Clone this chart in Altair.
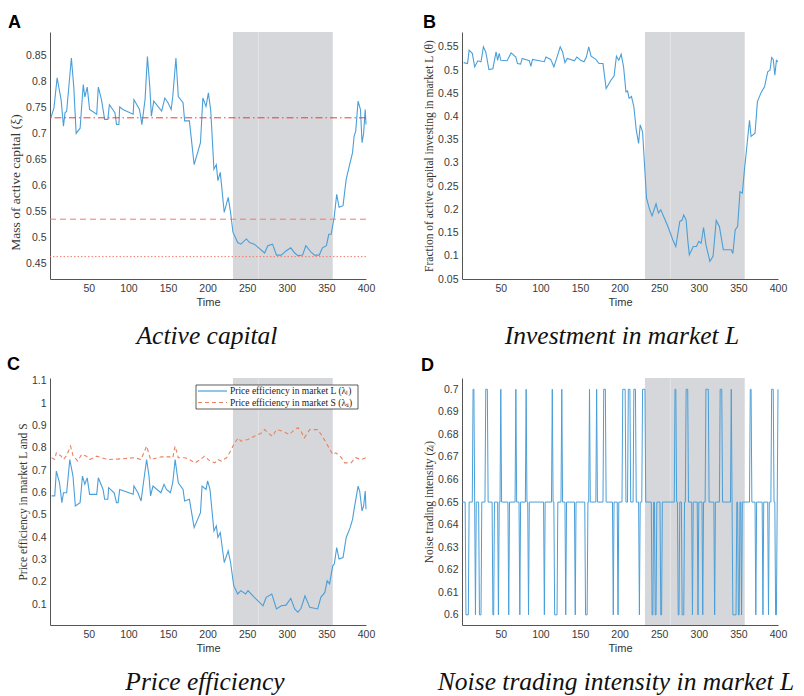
import altair as alt
import pandas as pd

# ---------------- data ----------------
TIME_DOMAIN = [1, 400]
TIME_TICKS = [50, 100, 150, 200, 250, 300, 350, 400]
SHADE_START, SHADE_END = 232, 358
SHADE_SEAM = 264

# Panel A: mass of active capital
A_t = [2, 6, 10, 12, 15, 18, 20, 22, 28, 31,
       34, 39, 43, 45, 48, 51, 60, 62, 66, 70,
       74, 76, 83, 85, 88, 89, 93, 106, 107, 114,
       117, 121, 124, 127, 129, 132, 142, 146, 150, 154,
       156, 160, 163, 169, 171, 177, 183, 191, 194, 198,
       201, 204, 208, 211, 213, 216, 221, 226, 229, 232,
       238, 242, 249, 253, 259, 272, 276, 282, 287, 293,
       299, 305, 310, 314, 320, 324, 331, 335, 341, 345,
       350, 353, 356, 360, 363, 366, 371, 375, 383, 385,
       387, 390, 393, 395, 397, 399, 400]
A_v = [0.73, 0.749, 0.807, 0.79, 0.765, 0.714, 0.74, 0.742, 0.845, 0.79,
       0.70, 0.71, 0.794, 0.77, 0.789, 0.746, 0.737, 0.789, 0.765, 0.727,
       0.727, 0.755, 0.74, 0.717, 0.717, 0.751, 0.746, 0.737, 0.765, 0.746,
       0.717, 0.765, 0.848, 0.79, 0.733, 0.762, 0.743, 0.768, 0.759, 0.746,
       0.771, 0.845, 0.771, 0.759, 0.724, 0.724, 0.64, 0.682, 0.768, 0.752,
       0.778, 0.743, 0.631, 0.64, 0.609, 0.625, 0.548, 0.577, 0.548, 0.51,
       0.49, 0.487, 0.497, 0.49, 0.487, 0.47, 0.484, 0.487, 0.466, 0.466,
       0.474, 0.48, 0.47, 0.465, 0.466, 0.484, 0.471, 0.466, 0.466, 0.48,
       0.484, 0.506, 0.506, 0.541, 0.583, 0.558, 0.561, 0.612, 0.663, 0.695,
       0.704, 0.762, 0.746, 0.682, 0.70, 0.746, 0.717]
A_REF = [0.73, 0.535, 0.463]
A_DOMAIN = [0.42, 0.895]
A_TICKS = [0.45, 0.5, 0.55, 0.6, 0.65, 0.7, 0.75, 0.8, 0.85]

# Panel B: fraction of active capital in market L
B_t = [3, 8, 10, 14, 17, 21, 25, 28, 31, 35,
       40, 44, 46, 48, 50, 58, 63, 69, 71, 75,
       77, 86, 88, 90, 105, 107, 113, 117, 121, 125,
       128, 131, 134, 143, 146, 151, 155, 158, 161, 164,
       170, 174, 179, 183, 189, 193, 196, 199, 202, 205,
       208, 210, 212, 215, 218, 221, 224, 226, 229, 234,
       238, 241, 246, 249, 252, 261, 267, 271, 276, 279,
       281, 284, 286, 288, 293, 297, 300, 303, 306, 309,
       314, 318, 322, 326, 331, 341, 343, 346, 349, 352,
       355, 358, 360, 364, 366, 371, 374, 379, 383, 387,
       390, 392, 394, 396, 398, 400]
B_v = [0.516, 0.514, 0.543, 0.536, 0.507, 0.52, 0.518, 0.55, 0.539, 0.501,
       0.503, 0.539, 0.521, 0.536, 0.521, 0.52, 0.537, 0.528, 0.514, 0.513,
       0.525, 0.52, 0.508, 0.523, 0.518, 0.528, 0.523, 0.507, 0.528, 0.55,
       0.539, 0.516, 0.525, 0.52, 0.528, 0.521, 0.518, 0.528, 0.55, 0.53,
       0.523, 0.514, 0.514, 0.46, 0.478, 0.487, 0.53, 0.521, 0.534, 0.507,
       0.453, 0.455, 0.439, 0.443, 0.421, 0.371, 0.342, 0.382, 0.367, 0.224,
       0.199, 0.186, 0.212, 0.192, 0.199, 0.163, 0.135, 0.12, 0.174, 0.177,
       0.188, 0.177, 0.135, 0.102, 0.12, 0.12, 0.131, 0.127, 0.161, 0.124,
       0.088, 0.099, 0.176, 0.163, 0.113, 0.113, 0.105, 0.156, 0.163, 0.238,
       0.235, 0.292, 0.324, 0.392, 0.357, 0.364, 0.432, 0.453, 0.464, 0.496,
       0.5, 0.527, 0.523, 0.489, 0.521, 0.518]
B_DOMAIN = [0.05, 0.582]
B_TICKS = [0.05, 0.1, 0.15, 0.2, 0.25, 0.3, 0.35, 0.4, 0.45, 0.5, 0.55]

# Panel C: price efficiency in L (solid) and S (dashed)
CL_t = [3, 7, 9, 13, 16, 18, 22, 26, 30, 33,
        39, 42, 45, 48, 51, 60, 62, 68, 70, 74,
        75, 82, 85, 87, 89, 106, 107, 112, 116, 119,
        123, 126, 128, 131, 141, 145, 148, 153, 156, 159,
        163, 169, 171, 177, 183, 191, 193, 198, 200, 203,
        208, 211, 213, 216, 221, 226, 229, 233, 238, 242,
        248, 251, 259, 270, 274, 281, 287, 293, 299, 305,
        310, 314, 318, 323, 329, 339, 343, 348, 351, 354,
        358, 360, 363, 366, 371, 375, 380, 383, 385, 390,
        392, 395, 397, 399, 400]
CL_v = [0.584, 0.584, 0.695, 0.643, 0.554, 0.598, 0.598, 0.747, 0.673, 0.539,
        0.554, 0.673, 0.636, 0.665, 0.591, 0.591, 0.665, 0.613, 0.569, 0.569,
        0.621, 0.598, 0.554, 0.554, 0.613, 0.591, 0.628, 0.598, 0.561, 0.643,
        0.747, 0.673, 0.584, 0.628, 0.598, 0.636, 0.613, 0.598, 0.643, 0.747,
        0.643, 0.613, 0.561, 0.569, 0.442, 0.509, 0.628, 0.613, 0.651, 0.613,
        0.427, 0.45, 0.398, 0.42, 0.286, 0.338, 0.286, 0.182, 0.145, 0.16,
        0.145, 0.16, 0.13, 0.092, 0.13, 0.145, 0.078, 0.092, 0.095, 0.125,
        0.078, 0.063, 0.081, 0.137, 0.085, 0.078, 0.13, 0.152, 0.204, 0.19,
        0.271, 0.279, 0.353, 0.301, 0.308, 0.398, 0.442, 0.479, 0.524, 0.628,
        0.606, 0.517, 0.539, 0.606, 0.524]
CS_t = [3, 7, 9, 15, 18, 22, 27, 30, 36, 41,
        47, 51, 60, 66, 74, 91, 108, 116, 123, 128,
        142, 152, 156, 159, 163, 171, 177, 184, 191, 196,
        203, 209, 213, 217, 224, 230, 234, 239, 242, 251,
        259, 268, 272, 276, 282, 287, 295, 303, 310, 314,
        318, 322, 329, 339, 345, 352, 358, 362, 369, 373,
        381, 387, 394, 400]
CS_v = [0.755, 0.747, 0.777, 0.762, 0.747, 0.765, 0.807, 0.765, 0.74, 0.77,
        0.762, 0.747, 0.762, 0.755, 0.747, 0.75, 0.755, 0.747, 0.807, 0.747,
        0.759, 0.759, 0.755, 0.807, 0.755, 0.755, 0.747, 0.732, 0.747, 0.762,
        0.74, 0.732, 0.747, 0.74, 0.755, 0.792, 0.822, 0.844, 0.829, 0.837,
        0.851, 0.866, 0.881, 0.866, 0.851, 0.881, 0.874, 0.859, 0.881, 0.889,
        0.874, 0.844, 0.881, 0.881, 0.851, 0.807, 0.77, 0.777, 0.755, 0.732,
        0.732, 0.755, 0.747, 0.755]
C_DOMAIN = [0.006, 1.112]
C_TICKS = [0.1, 0.2, 0.3, 0.4, 0.5, 0.6, 0.7, 0.8, 0.9, 1.0, 1.1]
C_LEGEND = ["Price efficiency in market L (\u03bb\u2097)",
            "Price efficiency in market S (\u03bb\u209b)"]

# Panel D: noise trading intensity in market L
D_t = [1, 5, 6, 9, 10, 14, 15, 16, 17, 18,
       19, 22, 23, 25, 26, 30, 31, 33, 34, 39,
       40, 41, 42, 46, 47, 48, 49, 50, 51, 59,
       60, 61, 68, 69, 70, 73, 74, 75, 81, 82,
       83, 84, 85, 86, 104, 105, 106, 114, 115, 116,
       117, 118, 121, 122, 126, 127, 128, 131, 132, 133,
       143, 144, 145, 156, 157, 159, 160, 161, 162, 163,
       170, 171, 172, 179, 180, 182, 183, 191, 192, 193,
       197, 198, 199, 203, 204, 207, 208, 210, 211, 213,
       214, 217, 218, 220, 221, 224, 225, 226, 228, 229,
       232, 233, 240, 241, 242, 243, 244, 245, 246, 247,
       251, 252, 253, 254, 269, 270, 271, 272, 273, 274,
       275, 276, 278, 279, 281, 282, 283, 284, 286, 287,
       291, 292, 293, 298, 299, 300, 304, 305, 306, 308,
       309, 312, 313, 319, 320, 321, 326, 327, 329, 330,
       340, 341, 342, 343, 347, 348, 349, 350, 351, 352,
       353, 354, 355, 364, 365, 366, 367, 371, 372, 373,
       380, 381, 382, 387, 388, 389, 391, 392, 394, 395,
       396, 397, 398, 399, 400]
D_v = [.65, .65, .6, .6, .65, .65, .7, .7, .65, .6,
       .65, .65, .6, .6, .65, .65, .7, .7, .65, .65,
       .6, .6, .65, .65, .6, .65, .65, .7, .65, .65,
       .6, .65, .65, .7, .65, .65, .6, .65, .65, .7,
       .65, .65, .6, .65, .65, .6, .65, .65, .7, .65,
       .65, .6, .6, .65, .65, .7, .65, .65, .6, .65,
       .65, .6, .65, .65, .6, .6, .65, .65, .7, .65,
       .65, .7, .65, .65, .7, .7, .65, .65, .6, .65,
       .65, .6, .65, .65, .7, .7, .65, .65, .7, .7,
       .65, .65, .7, .7, .65, .65, .6, .65, .65, .7,
       .7, .65, .65, .6, .6, .65, .65, .6, .6, .65,
       .65, .6, .6, .65, .65, .7, .7, .65, .65, .6,
       .6, .65, .65, .6, .6, .65, .65, .7, .7, .65,
       .65, .6, .65, .65, .6, .65, .65, .6, .65, .65,
       .7, .7, .65, .65, .6, .65, .65, .7, .7, .65,
       .65, .7, .65, .6, .6, .65, .65, .6, .6, .65,
       .65, .6, .65, .65, .7, .7, .65, .65, .6, .65,
       .65, .6, .65, .65, .6, .65, .65, .7, .7, .65,
       .65, .6, .6, .65, .7]
D_DOMAIN = [0.5955, 0.705]
D_TICKS = [0.6, 0.61, 0.62, 0.63, 0.64, 0.65, 0.66, 0.67, 0.68, 0.69, 0.7]

# ---------------- styling ----------------
W, H = 316, 247
BLUE = "#4a9fd9"
ORANGE = "#e8835f"
SHADE = "#d5d7da"
SANS = "Liberation Sans"
SERIF = "Liberation Serif"

xscale = alt.Scale(domain=TIME_DOMAIN, nice=False, zero=False)
xaxis = alt.Axis(values=TIME_TICKS, title="Time", format="d")


def one(**cols):
    return pd.DataFrame({k: [v] for k, v in cols.items()})


def panel(letter, lxy, title, tx, ytitle, ydom, yticks, yfmt, main_layers, extra=(),
          ytitle_opts=None):
    yscale = alt.Scale(domain=ydom, nice=False, zero=False)
    yaxis = alt.Axis(values=yticks, title=ytitle, format=yfmt, **(ytitle_opts or {}))
    X = alt.X("t:Q", scale=xscale, axis=xaxis)
    Y = alt.Y("v:Q", scale=yscale, axis=yaxis)

    shade = alt.Chart(one(t=SHADE_START, t2=SHADE_END)).mark_rect(color=SHADE).encode(
        x=X, x2="t2:Q", y=alt.value(0), y2=alt.value(H))
    seam = alt.Chart(one(t=SHADE_SEAM)).mark_rule(color="#e3e4e6", strokeWidth=1).encode(
        x=X, y=alt.value(0), y2=alt.value(H))
    layers = [shade, seam]
    for data, props in main_layers:
        kind = props.pop("kind", "line")
        if kind == "line":
            layers.append(alt.Chart(data).mark_line(**props).encode(x=X, y=Y))
        else:
            layers.append(alt.Chart(data).mark_rule(**props).encode(y=Y))
    layers.extend(extra)
    layers.append(alt.Chart(one(s=letter)).mark_text(
        font=SANS, fontSize=18, fontWeight="bold", align="left", baseline="top", color="#000"
    ).encode(text="s:N", x=alt.value(lxy[0]), y=alt.value(lxy[1])))
    layers.append(alt.Chart(one(s=title)).mark_text(
        font=SERIF, fontSize=25.5, fontStyle="italic", align="center", baseline="alphabetic",
        color="#111"
    ).encode(text="s:N", x=alt.value(tx), y=alt.value(312)))
    return alt.layer(*layers).properties(width=W, height=H)


# Panel A
A_main = [(pd.DataFrame({"t": A_t, "v": A_v}), dict(color=BLUE, strokeWidth=1.1)),
          (pd.DataFrame({"v": [A_REF[0]]}), dict(kind="rule", color="#f2392f", strokeWidth=1,
                                                 strokeDash=[7, 3, 1.5, 3])),
          (pd.DataFrame({"v": [A_REF[1]]}), dict(kind="rule", color="#f27b6e", strokeWidth=1,
                                                 strokeDash=[6, 4])),
          (pd.DataFrame({"v": [A_REF[2]]}), dict(kind="rule", color="#f27b6e", strokeWidth=1,
                                                 strokeDash=[1.5, 2]))]
pA = panel("A", (-42, -18), "Active capital", 157, "Mass of active capital (\u03be)",
           A_DOMAIN, A_TICKS, ".2~f", A_main,
           ytitle_opts=dict(titleFontSize=13.5, titleY=150))

# Panel B
B_main = [(pd.DataFrame({"t": B_t, "v": B_v}), dict(color=BLUE, strokeWidth=1.1))]
pB = panel("B", (-39, -18), "Investment in market L", 160,
           "Fraction of active capital investing in market L (\u03b8)",
           B_DOMAIN, B_TICKS, ".2~f", B_main)

# Panel C with hand-made legend box
leg = [
    alt.Chart(one(s="box")).mark_rect(fill="white", stroke="#333", strokeWidth=0.8).encode(
        x=alt.value(146), x2=alt.value(308), y=alt.value(7), y2=alt.value(31)),
    alt.Chart(one(s="l1")).mark_rule(color=BLUE, strokeWidth=1.2).encode(
        x=alt.value(148), x2=alt.value(177), y=alt.value(13)),
    alt.Chart(one(s="l2")).mark_rule(color=ORANGE, strokeWidth=1.1, strokeDash=[4, 3]).encode(
        x=alt.value(148), x2=alt.value(177), y=alt.value(24.5)),
    alt.Chart(one(s=C_LEGEND[0])).mark_text(font=SERIF, fontSize=9.5, align="left",
                                            baseline="middle", color="#222").encode(
        text="s:N", x=alt.value(180), y=alt.value(13)),
    alt.Chart(one(s=C_LEGEND[1])).mark_text(font=SERIF, fontSize=9.5, align="left",
                                            baseline="middle", color="#222").encode(
        text="s:N", x=alt.value(180), y=alt.value(24.5)),
]
C_main = [(pd.DataFrame({"t": CL_t, "v": CL_v}), dict(color=BLUE, strokeWidth=1.1)),
          (pd.DataFrame({"t": CS_t, "v": CS_v}), dict(color=ORANGE, strokeWidth=1.1,
                                                      strokeDash=[4, 3]))]
pC = panel("C", (-43, -22), "Price efficiency", 155, "Price efficiency in market L and S",
           C_DOMAIN, C_TICKS, ".1~f", C_main, leg)

# Panel D
D_main = [(pd.DataFrame({"t": D_t, "v": D_v}), dict(color=BLUE, strokeWidth=1))]
pD = panel("D", (-41, -21), "Noise trading intensity in market L", 154,
           "Noise trading intensity (z\u2097)", D_DOMAIN, D_TICKS, ".2~f", D_main)

chart = alt.concat(pA, pB, pC, pD, columns=2,
                   spacing=alt.RowColnumber(row=99, column=96), bounds="flush").properties(
    padding={"left": 7, "top": 14, "right": 0, "bottom": 0}
).configure_view(stroke=None).configure_axis(
    grid=False, ticks=False, domainColor="#555", domainWidth=1,
    labelFont=SANS, labelFontSize=10.5, labelColor="#3a3a3a", labelPadding=4,
    labelFlush=False, labelOverlap=False, titleFontWeight="normal", titleColor="#333"
).configure_axisX(titleFont=SANS, titleFontSize=11, titlePadding=3
).configure_axisY(titleFont=SERIF, titleFontSize=11.5, titlePadding=3)

chart.save("out.html", embed_options={"renderer": "svg", "actions": False})
